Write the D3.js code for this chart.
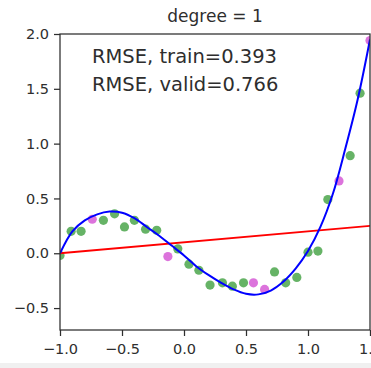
<!DOCTYPE html>
<html>
<head>
<meta charset="utf-8">
<script src="https://cdn.jsdelivr.net/npm/d3@7"></script>
<style>
  body { margin: 0; background: #fff; }
  svg { display: block; font-family: "DejaVu Sans", sans-serif; }
</style>
</head>
<body>
<div id="chart"></div>
<script>
// training points (green)
const trainX = [-1.00, -0.91, -0.83, -0.65, -0.56, -0.48, -0.40, -0.31, -0.22, -0.05, 0.04, 0.12,
                0.21, 0.31, 0.39, 0.48, 0.73, 0.82, 0.91, 1.00, 1.08, 1.16, 1.34, 1.42];
const trainY = [-0.02, 0.20, 0.20, 0.30, 0.36, 0.24, 0.30, 0.22, 0.21, 0.04, -0.10, -0.155,
                -0.29, -0.27, -0.30, -0.27, -0.17, -0.27, -0.22, 0.01, 0.02, 0.49, 0.89, 1.46];
// validation points (magenta)
const validX = [-0.74, -0.13, 0.56, 0.65, 1.25, 1.50];
const validY = [0.31, -0.03, -0.27, -0.33, 0.66, 1.94];
// true function (blue)
const trueX = [-1.0, -0.9, -0.8, -0.7, -0.6, -0.5, -0.4, -0.3, -0.2, -0.1, 0.0, 0.1, 0.2,
               0.3, 0.4, 0.5, 0.6, 0.7, 0.8, 0.9, 1.0, 1.1, 1.2, 1.3, 1.4, 1.5];
const trueY = [0.0, 0.20, 0.30, 0.355, 0.38, 0.37, 0.32, 0.24, 0.16, 0.07, -0.02, -0.12, -0.20,
               -0.27, -0.33, -0.37, -0.375, -0.34, -0.26, -0.14, 0.02, 0.24, 0.54, 0.95, 1.40, 1.95];
// degree 1 fit (red)
const fitX = [-1.0, 1.5];
const fitY = [0.0, 0.25];

const xTicks = [-1.0, -0.5, 0.0, 0.5, 1.0, 1.5];
const yTicks = [-0.5, 0.0, 0.5, 1.0, 1.5, 2.0];
const title = "degree = 1";
const notes = ["RMSE, train=0.393", "RMSE, valid=0.766"];

const W = 371, H = 368;
const margin = { left: 60, right: 370, top: 34, bottom: 330 };
const ink = "#2e2e2e";

const svg = d3.select("#chart").append("svg")
    .attr("width", W)
    .attr("height", H);

// the light strip at the bottom of the screenshot
svg.append("rect")
    .attr("x", 0).attr("y", 363)
    .attr("width", W).attr("height", H - 363)
    .attr("fill", "#f0f0f0");

const x = d3.scaleLinear().domain([-1.0, 1.5]).range([margin.left, margin.right]);
const y = d3.scaleLinear().domain([-0.7, 2.0]).range([margin.bottom, margin.top]);

svg.append("clipPath").attr("id", "plotclip")
    .append("rect")
    .attr("x", margin.left).attr("y", margin.top)
    .attr("width", margin.right - margin.left).attr("height", margin.bottom - margin.top);

const plot = svg.append("g").attr("clip-path", "url(#plotclip)");

plot.selectAll(".train")
    .data(trainX.map((d, i) => [d, trainY[i]]))
    .enter().append("circle")
    .attr("class", "train")
    .attr("cx", d => x(d[0]))
    .attr("cy", d => y(d[1]))
    .attr("r", 4.6)
    .attr("fill", "rgb(0,128,0)")
    .attr("fill-opacity", 0.6);

plot.selectAll(".valid")
    .data(validX.map((d, i) => [d, validY[i]]))
    .enter().append("circle")
    .attr("class", "valid")
    .attr("cx", d => x(d[0]))
    .attr("cy", d => y(d[1]))
    .attr("r", 4.6)
    .attr("fill", "rgb(191,0,191)")
    .attr("fill-opacity", 0.55);

const line = d3.line()
    .x(d => x(d[0]))
    .y(d => y(d[1]));

plot.append("path")
    .datum(fitX.map((d, i) => [d, fitY[i]]))
    .attr("d", line)
    .attr("fill", "none")
    .attr("stroke", "#ff0000")
    .attr("stroke-width", 1.8);

plot.append("path")
    .datum(trueX.map((d, i) => [d, trueY[i]]))
    .attr("d", line.curve(d3.curveCatmullRom))
    .attr("fill", "none")
    .attr("stroke", "#0000ff")
    .attr("stroke-width", 2);

// axes
const xAxis = svg.append("g")
    .attr("transform", "translate(0," + margin.bottom + ")")
    .call(d3.axisBottom(x).tickValues(xTicks).tickFormat(d3.format(".1f"))
        .tickSize(6).tickPadding(8));
const yAxis = svg.append("g")
    .attr("transform", "translate(" + margin.left + ",0)")
    .call(d3.axisLeft(y).tickValues(yTicks).tickFormat(d3.format(".1f"))
        .tickSize(6).tickPadding(5));

[xAxis, yAxis].forEach(a => {
    a.select(".domain").remove();
    a.selectAll(".tick line").attr("stroke", ink).attr("stroke-width", 1.25);
    a.selectAll(".tick text")
        .attr("fill", ink)
        .attr("font-size", "14.5px")
        .attr("font-family", "DejaVu Sans");
});

// frame
svg.append("rect")
    .attr("x", margin.left).attr("y", margin.top)
    .attr("width", margin.right - margin.left).attr("height", margin.bottom - margin.top)
    .attr("fill", "none")
    .attr("stroke", ink)
    .attr("stroke-width", 1.25);

svg.append("text")
    .attr("x", (margin.left + margin.right) / 2)
    .attr("y", 22)
    .attr("text-anchor", "middle")
    .attr("font-size", "17px")
    .attr("fill", ink)
    .text(title);

svg.selectAll(".note")
    .data(notes)
    .enter().append("text")
    .attr("class", "note")
    .attr("x", 92)
    .attr("y", (d, i) => 63 + i * 28)
    .attr("font-size", "19.5px")
    .attr("fill", ink)
    .text(d => d);
</script>
</body>
</html>
